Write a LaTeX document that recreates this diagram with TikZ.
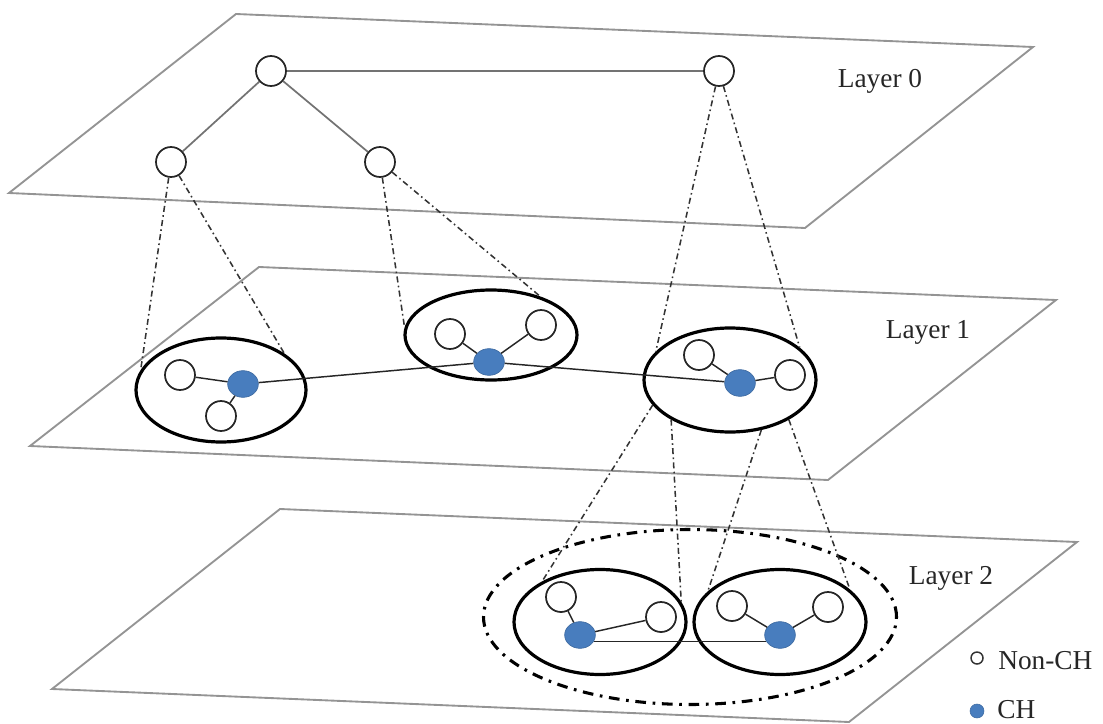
\documentclass[tikz,border=0pt]{standalone}
\usepackage{fontspec}
\setmainfont{Liberation Serif}
\usetikzlibrary{shapes.geometric}
\definecolor{chblue}{RGB}{72,125,190}
\begin{document}
\begin{tikzpicture}[x=0.75pt,y=-0.75pt,
 plane/.style={draw=black!42, line width=1.4pt, line join=miter},
 edge/.style={draw=black!55, line width=1.3pt},
 link/.style={draw=black!85, line width=1.1pt},
 nonch/.style={circle, draw=black!85, line width=1.3pt, fill=white, minimum size=22.5pt, inner sep=0pt},
 chnode/.style={ellipse, fill=chblue, draw=chblue!85!black, line width=0.5pt, minimum width=23pt, minimum height=20pt, inner sep=0pt},
 cluster/.style={ellipse, draw=black, line width=2.4pt, inner sep=0pt},
 proj/.style={draw=black!80, line width=1.15pt, dash pattern=on 4.5pt off 2.5pt on 1.2pt off 2.5pt},
 outer/.style={ellipse, draw=black, line width=2.3pt, inner sep=0pt, dash pattern=on 8pt off 5pt on 2pt off 5pt},
 lbl/.style={font=\fontsize{20.5}{24}\selectfont, text=black!85, inner sep=0pt}
]
\useasboundingbox (0,0) rectangle (1103,724);
% planes
\draw[plane] (236,14) -- (1033,47) -- (805,228) -- (9,193) -- cycle;
\draw[plane] (259,267) -- (1056,300) -- (828,480) -- (30,446) -- cycle;
\draw[plane] (280,509) -- (1077,542) -- (849,722) -- (52,689) -- cycle;
% labels
\node[lbl] (l0) at (880,81) {Layer 0};
\node[lbl] (l1) at (928,332) {Layer 1};
\node[lbl] (l2) at (951,578) {Layer 2};
% clusters
\node[cluster, minimum width=127.5pt, minimum height=78pt] (A) at (221,390) {};
\node[cluster, minimum width=129pt, minimum height=67.5pt] (B) at (491,335) {};
\node[cluster, minimum width=129pt, minimum height=78pt] (C) at (730,380) {};
\node[outer, minimum width=309.75pt, minimum height=131.25pt] (O) at (690,617) {};
\node[cluster, minimum width=129pt, minimum height=78.75pt] (D) at (600,622) {};
\node[cluster, minimum width=129pt, minimum height=78.75pt] (E) at (780,622) {};
% layer 0 nodes
\node[nonch] (root) at (271,71) {};
\node[nonch] (r) at (719,71) {};
\node[nonch] (lc) at (171,162) {};
\node[nonch] (rc) at (380,162) {};
% layer 1 nodes
\node[chnode] (cha) at (243,384) {};
\node[nonch] (a1) at (180,375) {};
\node[nonch] (a2) at (221,416) {};
\node[chnode] (chb) at (489,362) {};
\node[nonch] (b1) at (450,334) {};
\node[nonch] (b2) at (541,325) {};
\node[chnode] (chc) at (740,383) {};
\node[nonch] (c1) at (699,355) {};
\node[nonch] (c2) at (790,375) {};
% layer 2 nodes
\node[chnode] (chd) at (580,635) {};
\node[nonch] (d1) at (561,597) {};
\node[nonch] (d2) at (661,617) {};
\node[chnode] (che) at (780,635) {};
\node[nonch] (e1) at (732,606) {};
\node[nonch] (e2) at (828,607) {};
% tree edges layer 0
\draw[edge] (root) -- (r);
\draw[edge] (root) -- (lc);
\draw[edge] (root) -- (rc);
% links layer 1
\draw[link] (a1) -- (cha);
\draw[link] (a2) -- (cha);
\draw[link] (cha) -- (chb);
\draw[link] (b1) -- (chb);
\draw[link] (b2) -- (chb);
\draw[link] (chb) -- (chc);
\draw[link] (c1) -- (chc);
\draw[link] (chc) -- (c2);
% links layer 2
\draw[link] (d1) -- (chd);
\draw[link] (chd) -- (d2);
\draw[link] (e1) -- (che);
\draw[link] (che) -- (e2);
\draw[link] (chd.-25) -- (che.205);
% projections
\draw[proj] (lc) -- (A.166);
\draw[proj] (lc) -- (A.30);
\draw[proj] (rc) -- (B.175);
\draw[proj] (rc) -- (B.38);
\draw[proj] (r) -- (C.159);
\draw[proj] (r) -- (C.25);
\draw[proj] (C.198) -- (D.145);
\draw[proj] (C.214) -- (D.14);
\draw[proj] (C.302) -- (E.157);
\draw[proj] (C.326) -- (E.25);
% legend
\node[circle, draw=black!80, line width=1.1pt, fill=white, minimum size=9pt, inner sep=0pt] (lgn) at (977,658) {};
\node[lbl, anchor=base west] (lgnt) at (998,669) {Non-CH};
\node[circle, fill=chblue, draw=chblue!85!black, line width=0.4pt, minimum size=10.5pt, inner sep=0pt] (lgc) at (977,711) {};
\node[lbl, anchor=base west] (lgct) at (997,718) {CH};
\end{tikzpicture}
\end{document}
